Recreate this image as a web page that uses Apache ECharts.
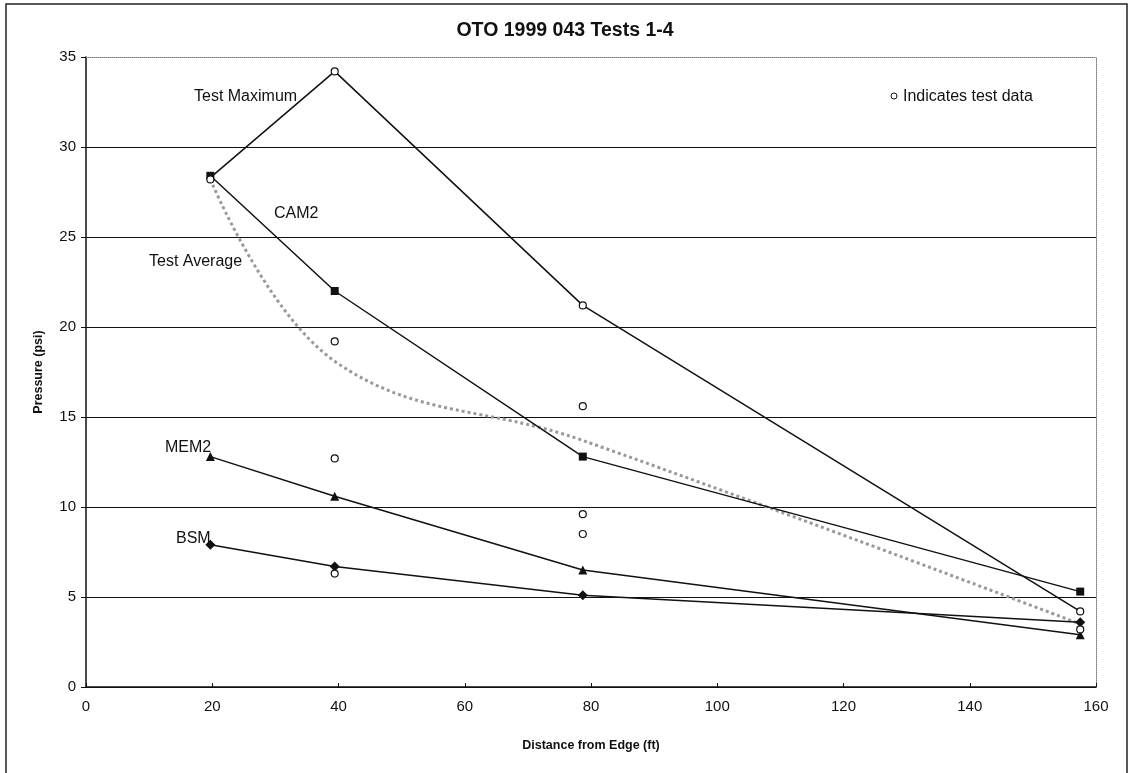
<!DOCTYPE html>
<html>
<head>
<meta charset="utf-8">
<script src="https://cdn.jsdelivr.net/npm/echarts@6/dist/echarts.min.js"></script>
<style>
  html, body { margin: 0; padding: 0; background: #fff; }
  #chart { width: 1130px; height: 773px; }
</style>
</head>
<body>
<div id="chart"></div>
<script>
    // distance from edge (ft)
    var xDist = [19.7, 39.4, 78.7, 157.5];

    var cam2 = [28.4, 22.0, 12.8, 5.3];
    var mem2 = [12.8, 10.6, 6.5, 2.9];
    var bsm = [7.9, 6.7, 5.1, 3.6];
    var testMax = [28.3, 34.2, 21.2, 4.2];
    var testAvg = [28.2, 18.1, 13.7, 3.5];

    // individual test points
    var testX = [19.7, 39.4, 39.4, 39.4, 39.4, 78.7, 78.7, 78.7, 78.7, 157.5, 157.5];
    var testY = [28.2, 34.2, 19.2, 12.7, 6.3, 21.2, 15.6, 9.6, 8.5, 4.2, 3.2];

    var yTicks = [0, 5, 10, 15, 20, 25, 30, 35];

    function pairs(xs, ys) {
        var out = [];
        for (var i = 0; i < xs.length; i++) {
            out.push([xs[i], ys[i]]);
        }
        return out;
    }

    var font = "'Liberation Sans', Arial, sans-serif";

    var myChart = echarts.init(document.getElementById('chart'));

    // last split line (35) is drawn dotted by the top axis instead
    var splitColors = yTicks.map(function (v, i) {
        return i == yTicks.length - 1 ? 'rgba(0,0,0,0)' : '#111';
    });

    function lineSeries(name, data, symbol, size) {
        return {
            name: name,
            type: 'line',
            data: pairs(xDist, data),
            symbol: symbol,
            symbolSize: size,
            showSymbol: symbol != 'none',
            lineStyle: { color: '#111', width: 1.5 },
            itemStyle: { color: '#111' },
            z: 3,
            animation: false
        };
    }

    var option = {
        backgroundColor: '#fff',
        animation: false,
        title: {
            text: 'OTO 1999 043 Tests 1-4',
            left: 'center',
            top: 16,
            textStyle: { fontFamily: font, fontSize: 19.5, fontWeight: 'bold', color: '#111' }
        },
        grid: { left: 86, right: 34, top: 57, bottom: 86 },
        xAxis: [{
            type: 'value',
            min: 0,
            max: 160,
            interval: 20,
            name: 'Distance from Edge (ft)',
            nameLocation: 'middle',
            nameGap: 52,
            nameTextStyle: { fontFamily: font, fontSize: 12.5, fontWeight: 'bold', color: '#111' },
            axisLine: { onZero: false, lineStyle: { color: '#111', width: 1.5 } },
            axisTick: { inside: true, length: 4, lineStyle: { color: '#111' } },
            axisLabel: { fontFamily: font, fontSize: 15, color: '#111', margin: 12 },
            splitLine: { show: false }
        }, {
            type: 'value',
            min: 0,
            max: 160,
            position: 'top',
            axisLine: { onZero: false, lineStyle: { color: '#777', type: 'dotted', width: 1 } },
            axisTick: { show: false },
            axisLabel: { show: false },
            splitLine: { show: false }
        }],
        yAxis: [{
            type: 'value',
            min: 0,
            max: 35,
            interval: 5,
            name: 'Pressure (psi)',
            nameLocation: 'middle',
            nameGap: 41,
            nameTextStyle: { fontFamily: font, fontSize: 12.5, fontWeight: 'bold', color: '#111' },
            axisLine: { show: true, onZero: false, lineStyle: { color: '#111', width: 1.5 } },
            axisTick: { show: true, length: 5, lineStyle: { color: '#111' } },
            axisLabel: { fontFamily: font, fontSize: 15, color: '#111', margin: 10 },
            splitLine: { show: true, lineStyle: { color: splitColors, width: 1.2 } }
        }, {
            type: 'value',
            min: 0,
            max: 35,
            position: 'right',
            axisLine: { show: true, onZero: false, lineStyle: { color: '#777', type: 'dotted', width: 1 } },
            axisTick: { show: false },
            axisLabel: { show: false },
            splitLine: { show: false }
        }],
        series: [
            {
                name: 'Test Average',
                type: 'line',
                data: pairs(xDist, testAvg),
                smooth: 0.4,
                symbol: 'none',
                lineStyle: { color: '#999', width: 3, type: 'dotted' },
                z: 2
            },
            lineSeries('Test Maximum', testMax, 'none', 0),
            {
                name: 'Test data',
                type: 'scatter',
                data: pairs(testX, testY),
                symbol: 'circle',
                symbolSize: 7,
                itemStyle: { color: '#fff', borderColor: '#111', borderWidth: 1.2, opacity: 1 },
                z: 4
            },
            lineSeries('CAM2', cam2, 'rect', 8),
            lineSeries('MEM2', mem2, 'triangle', 9),
            lineSeries('BSM', bsm, 'diamond', 10)
        ],
        graphic: [
            { type: 'rect', shape: { x: 6, y: 4, width: 1121, height: 780 }, style: { fill: 'none', stroke: '#222', lineWidth: 1.5 }, silent: true },
            { type: 'text', left: 194, top: 89, style: { text: 'Test Maximum', font: '16px ' + font, fill: '#111' } },
            { type: 'text', left: 274, top: 206, style: { text: 'CAM2', font: '16px ' + font, fill: '#111' } },
            { type: 'text', left: 149, top: 254, style: { text: 'Test Average', font: '16px ' + font, fill: '#111' } },
            { type: 'text', left: 165, top: 440, style: { text: 'MEM2', font: '16px ' + font, fill: '#111' } },
            { type: 'text', left: 176, top: 531, style: { text: 'BSM', font: '16px ' + font, fill: '#111' } },
            { type: 'circle', shape: { cx: 894, cy: 96, r: 3 }, style: { fill: '#fff', stroke: '#111', lineWidth: 1 } },
            { type: 'text', left: 903, top: 89, style: { text: 'Indicates test data', font: '16px ' + font, fill: '#111' } }
        ]
    };

    myChart.setOption(option);
</script>
</body>
</html>
